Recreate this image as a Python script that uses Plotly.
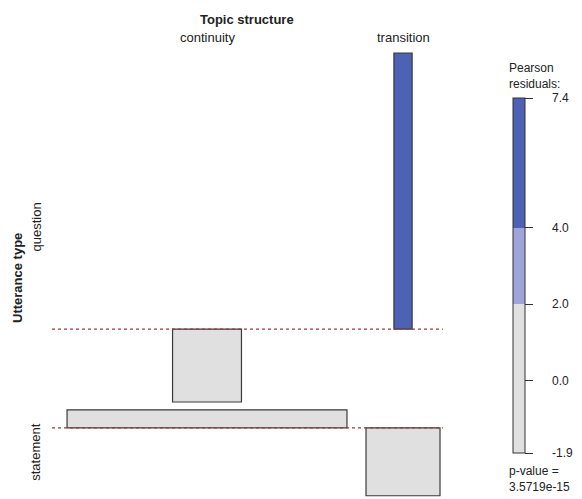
"""
Association plot: utterance type vs topic structure (Pearson residuals).
"""

import numpy as np
import plotly.graph_objects as go

# ── Data ───────────────────────────────────────────────────────────────────────
row_var = "Utterance type"
col_var = "Topic structure"
rows = ["question", "statement"]
cols = ["continuity", "transition"]
observed = np.array([[6, 8],
                     [223, 8]])
legend_ticks = [-1.9, 0.0, 2.0, 4.0, 7.4]
legend_labels = ["-1.9", "0.0", "2.0", "4.0", "7.4"]
p_value_text = "3.5719e-15"

# ── Residuals and expected counts ──────────────────────────────────────────────
n = observed.sum()
expected = np.outer(observed.sum(axis=1), observed.sum(axis=0)) / n
resid = (observed - expected) / np.sqrt(expected)
widths = np.sqrt(expected)

# ── Layout helpers ─────────────────────────────────────────────────────────────
# page has an 8px body margin, so the figure is sized to the visible area and
# positions below are given in window pixels, then shifted by OFF
OFF = 8
W, H = 582 - OFF, 499 - OFF
px_x, px_y = 19.05, 37.25          # pixels per unit on each axis
col_gap = 1.0                      # gap between columns (x units)
row_gap = 0.21                     # gap between rows (y units)


def fx(px):
    return (px - OFF) / W


def fy(px):
    return 1 - (px - OFF) / H


col_w = widths.max(axis=0)
col_left = np.concatenate([[0], np.cumsum(col_w + col_gap)[:-1]])
centers = col_left + col_w / 2

bases = [0.0]
for i in range(1, len(rows)):
    bases.append(bases[-1] + min(resid[i - 1].min(), 0) - row_gap - max(resid[i].max(), 0))
bases = np.array(bases)

x0 = -0.79
x1 = x0 + 391 / px_x
y_top = resid[0].max() + (53 - OFF) / px_y
y_bot = y_top - H / px_y


def shade(r):
    if r > 4:
        return "#4d62b4"
    if r > 2:
        return "#9ea5d9"
    return "#e0e0e0"


font = "Liberation Sans, Arial, sans-serif"
fig = go.Figure()

# baselines
for b in bases:
    fig.add_trace(go.Scatter(x=[x0, x1], y=[b, b], mode="lines",
                             line=dict(color="#9a3b33", width=1.3, dash="dot"),
                             hoverinfo="skip", showlegend=False))

# residual boxes
for i, r in enumerate(rows):
    fig.add_trace(go.Bar(x=centers, y=resid[i], base=[bases[i]] * len(cols), width=widths[i],
                         marker=dict(color=[shade(v) for v in resid[i]],
                                     line=dict(color="#3a3a3a", width=1.2)),
                         name=r, showlegend=False))

# shading legend
lo, hi = legend_ticks[0], legend_ticks[-1]
f2, f4 = (2 - lo) / (hi - lo), (4 - lo) / (hi - lo)
cscale = [[0, "#e0e0e0"], [f2, "#e0e0e0"], [f2, "#9ea5d9"], [f4, "#9ea5d9"],
          [f4, "#4d62b4"], [1, "#4d62b4"]]
fig.add_trace(go.Scatter(
    x=[None], y=[None], mode="markers", showlegend=False,
    marker=dict(color=[lo], colorscale=cscale, cmin=lo, cmax=hi, showscale=True,
                colorbar=dict(x=fx(513), xanchor="left", y=fy(98), yanchor="top",
                              len=(453 - 98) / H, lenmode="fraction", thickness=12,
                              xpad=0, ypad=0, outlinewidth=1, outlinecolor="#333",
                              tickvals=legend_ticks,
                              ticktext=["     " + t for t in legend_labels],
                              ticks="outside", ticklen=8, tickcolor="#333",
                              tickfont=dict(family=font, size=12, color="#222")))))

ann = []
ann.append(dict(text="<b>%s</b>" % col_var, x=fx(247), y=fy(20), xref="paper", yref="paper",
                xanchor="center", yanchor="middle", showarrow=False, font=dict(size=13)))
for c, cx in zip(cols, centers):
    ann.append(dict(text=c, x=cx, y=fy(37), xref="x", yref="paper",
                    xanchor="center", yanchor="middle", showarrow=False, font=dict(size=13)))
ann.append(dict(text="<b>%s</b>" % row_var, x=fx(17), y=fy(278), xref="paper", yref="paper",
                xanchor="center", yanchor="middle", textangle=-90, showarrow=False,
                font=dict(size=13)))
for i, r in enumerate(rows):
    yc = bases[i] + (max(resid[i].max(), 0) + min(resid[i].min(), 0)) / 2
    ann.append(dict(text=r, x=fx(36), y=yc, xref="paper", yref="y",
                    xanchor="center", yanchor="middle", textangle=-90, showarrow=False,
                    font=dict(size=13)))
for txt, yy in [("Pearson<br>residuals:", 76), ("p-value =<br>" + p_value_text, 479)]:
    ann.append(dict(text=txt, x=fx(507), y=fy(yy), xref="paper", yref="paper",
                    xanchor="left", yanchor="middle", align="left", showarrow=False,
                    font=dict(size=12)))

fig.update_layout(
    width=W, height=H, margin=dict(l=0, r=0, t=0, b=0),
    paper_bgcolor="white", plot_bgcolor="white", barmode="overlay",
    font=dict(family=font, color="#222"),
    xaxis=dict(domain=[fx(52), fx(443)], range=[x0, x1], visible=False),
    yaxis=dict(domain=[0, 1], range=[y_bot, y_top], visible=False),
    annotations=ann,
)
fig.write_html("out.html")
